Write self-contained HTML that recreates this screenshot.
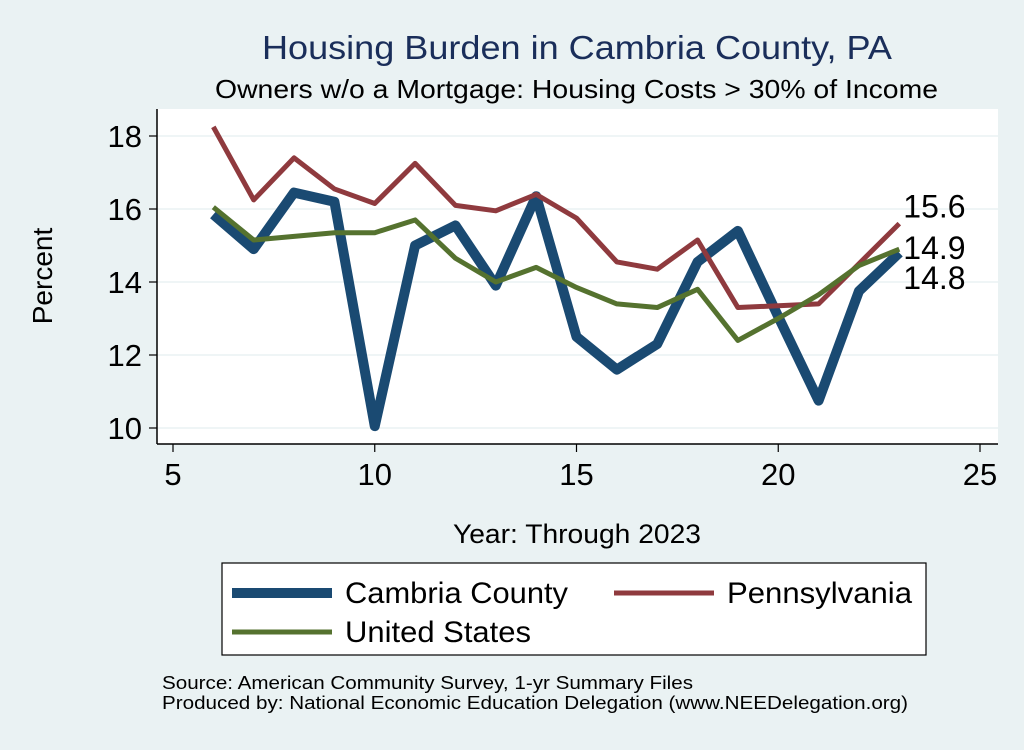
<!DOCTYPE html>
<html><head><meta charset="utf-8"><style>
body{margin:0;background:#eaf2f3;font-family:"Liberation Sans",sans-serif}
</style></head><body>
<svg width="1024" height="745" xmlns="http://www.w3.org/2000/svg" font-family="Liberation Sans, sans-serif">
<rect width="1024" height="745" fill="#eaf2f3"/>
<text x="262" y="59" font-size="33" fill="#1a2e5a" textLength="630" lengthAdjust="spacingAndGlyphs">Housing Burden in Cambria County, PA</text>
<text x="215" y="98" font-size="26" fill="#000" textLength="723" lengthAdjust="spacingAndGlyphs">Owners w/o a Mortgage: Housing Costs &gt; 30% of Income</text>
<rect x="157" y="109" width="841" height="335" fill="#fff"/>
<g id="grid"></g>
<line x1="157" y1="109" x2="157" y2="444" stroke="#000" stroke-width="1.5"/>
<line x1="157" y1="444" x2="998" y2="444" stroke="#000" stroke-width="1.5"/>
<g id="axes"></g>
<g id="series"></g>
<text x="52" y="276" font-size="28" text-anchor="middle" transform="rotate(-90 52 276)">Percent</text>
<text x="453" y="543" font-size="27" textLength="248" lengthAdjust="spacingAndGlyphs">Year: Through 2023</text>
<rect x="222" y="563" width="704" height="92" fill="#fff" stroke="#000" stroke-width="1.2"/>
<g><line x1="232" y1="593" x2="332" y2="593" stroke="#1a4a72" stroke-width="10"/><text x="345" y="603" font-size="30" textLength="223" lengthAdjust="spacingAndGlyphs">Cambria County</text></g>
<g><line x1="614" y1="593" x2="714" y2="593" stroke="#8f3a3e" stroke-width="5"/><text x="727" y="603" font-size="30" textLength="185" lengthAdjust="spacingAndGlyphs">Pennsylvania</text></g>
<g><line x1="232" y1="632" x2="332" y2="632" stroke="#55722f" stroke-width="5"/><text x="345" y="642" font-size="30" textLength="186" lengthAdjust="spacingAndGlyphs">United States</text></g>
<text x="162" y="689" font-size="18" textLength="531" lengthAdjust="spacingAndGlyphs">Source: American Community Survey, 1-yr Summary Files</text>
<text x="162" y="709" font-size="18" textLength="746" lengthAdjust="spacingAndGlyphs">Produced by: National Economic Education Delegation (www.NEEDelegation.org)</text>
</svg>
<script>
const years=[6,7,8,9,10,11,12,13,14,15,16,17,18,19,20,21,22,23];
const cambria=[15.85,14.9,16.45,16.2,10.05,15.0,15.55,13.9,16.35,12.5,11.6,12.3,14.55,15.4,13.05,10.75,13.75,14.8];
const penn=[18.25,16.25,17.4,16.55,16.15,17.25,16.1,15.95,16.4,15.75,14.55,14.35,15.15,13.3,13.35,13.4,14.5,15.6];
const us=[16.05,15.15,15.25,15.35,15.35,15.7,14.65,14.0,14.4,13.85,13.4,13.3,13.8,12.4,13.0,13.65,14.45,14.9];
const yTicks=[10,12,14,16,18];
const xTicks=[5,10,15,20,25];
const NS="http://www.w3.org/2000/svg";
const X=v=>173+(v-5)*(980-173)/20;
const Y=v=>428-(v-10)*(428-136)/8;
function mk(tag,attrs,parent){const e=document.createElementNS(NS,tag);for(const k in attrs)e.setAttribute(k,attrs[k]);parent.appendChild(e);return e;}
const grid=document.getElementById('grid'),axes=document.getElementById('axes'),ser=document.getElementById('series');
yTicks.forEach(t=>{
 const g=mk('line',{x1:157,x2:998,y1:Y(t),y2:Y(t),stroke:'#eaf2f3','stroke-width':1.5},grid);
 
 
 mk('line',{x1:149,x2:157,y1:Y(t),y2:Y(t),stroke:'#000','stroke-width':1.2},axes);
 const tx=mk('text',{x:142,y:Y(t)+11,'font-size':31,'text-anchor':'end'},axes);tx.textContent=t;
 
 
});
xTicks.forEach(t=>{
 mk('line',{x1:X(t),x2:X(t),y1:444,y2:452,stroke:'#000','stroke-width':1.2},axes);
 const tx=mk('text',{x:X(t),y:485,'font-size':31,'text-anchor':'middle'},axes);tx.textContent=t;
 
 
});
function line(vals,color,w,name){
 const p=mk('polyline',{points:years.map((y,i)=>X(y)+','+Y(vals[i])).join(' '),fill:'none',stroke:color,'stroke-width':w,'stroke-linejoin':'round'},ser);
 
 
}
line(cambria,'#1a4a72',10,'cambria-line');
line(penn,'#8f3a3e',5,'pennsylvania-line');
line(us,'#55722f',5,'united-states-line');
const last=years.length-1;
[[penn,'15.6',-6,'label-pennsylvania'],[us,'14.9',10,'label-united-states'],[cambria,'14.8',36,'label-cambria']].forEach(([v,txt,dy,nm])=>{
 const tx=mk('text',{x:X(years[last])+4,y:Y(v[last])+dy,'font-size':32},ser);tx.textContent=txt;
 
 
});
</script>
</body></html>
